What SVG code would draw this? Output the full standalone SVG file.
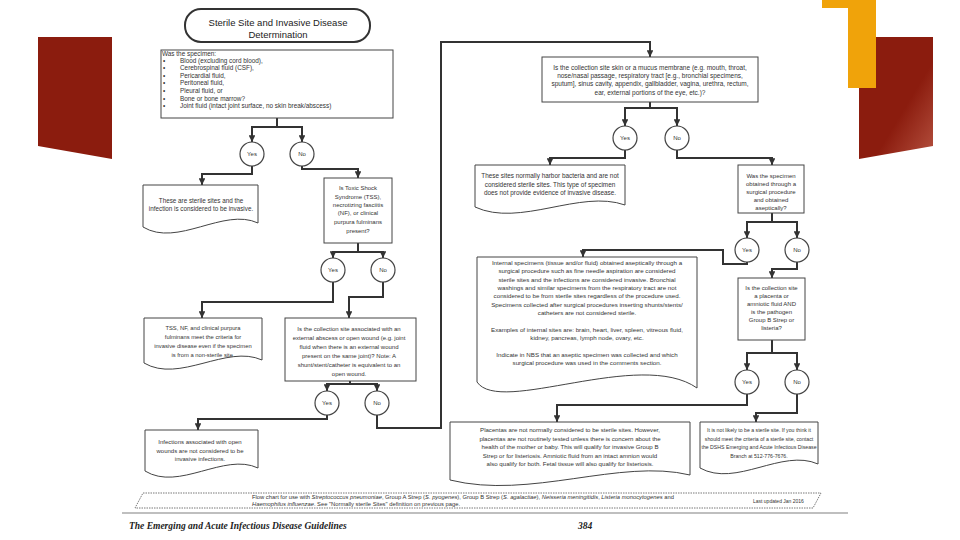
<svg xmlns="http://www.w3.org/2000/svg" width="960" height="540" viewBox="0 0 960 540">
<defs>
<marker id="ah" viewBox="0 0 10 10" refX="10" refY="5" markerWidth="3.4" markerHeight="3.4" orient="auto" markerUnits="strokeWidth"><path d="M0,0 L10,5 L0,10 z" fill="#333"/></marker>
<linearGradient id="rg" x1="0" y1="0" x2="1" y2="1"><stop offset="0.6" stop-color="#8b1c0e"/><stop offset="1" stop-color="#b5513f"/></linearGradient>
<style>
.c{fill:none;stroke:#333;stroke-width:2;stroke-linejoin:miter}
.a{marker-end:url(#ah)}
.b{fill:#fff;stroke:#444;stroke-width:1}
.ci{fill:#fff;stroke:#444;stroke-width:1.2}
.t{font-family:"Liberation Sans",Arial,sans-serif;font-size:6px;fill:#333;text-anchor:middle}
.l{text-anchor:start}
.ttl{font-family:"Liberation Sans",Arial,sans-serif;font-size:9.5px;fill:#222;text-anchor:middle}
.ft{font-family:"Liberation Sans",Arial,sans-serif;font-size:5.8px;fill:#333}
.pg{font-family:"Liberation Serif","Times New Roman",serif;font-size:9.5px;font-style:italic;font-weight:bold;fill:#222}
</style>
</defs>
<rect width="960" height="540" fill="#fff"/>
<g id="decor">
<polygon points="38,37 112,37 112,159 38,146" fill="#8b1c0e"/>
<polygon points="859,37 933,37 933,146 859,159" fill="url(#rg)"/>
<rect x="822" y="0" width="54" height="8" fill="#f0a30a"/>
<rect x="848" y="0" width="28" height="88" fill="#f0a30a"/>
</g>
<g id="connectors">
<path class="c" d="M277,118 V127"/>
<path class="c a" d="M277,127 H252 V142"/>
<path class="c a" d="M277,127 H302 V142"/>
<path class="c a" d="M252,166 V174 H202 V185"/>
<path class="c a" d="M302,166 V169 H358 V178"/>
<path class="c" d="M358,243 V252"/>
<path class="c a" d="M358,252 H333 V258"/>
<path class="c a" d="M358,252 H383 V258"/>
<path class="c a" d="M333,282 V302 H202 V318"/>
<path class="c a" d="M383,282 V297 H349 V318"/>
<path class="c" d="M350,381 V384"/>
<path class="c a" d="M350,384 H327 V391"/>
<path class="c a" d="M350,384 H377 V391"/>
<path class="c a" d="M327,415 V419 H198 V430"/>
<path class="c a" d="M377,415 V428 H441 V42 H650 V57"/>
<path class="c" d="M650,102 V108"/>
<path class="c a" d="M650,108 H625 V126"/>
<path class="c a" d="M650,108 H677 V126"/>
<path class="c a" d="M625,150 V158 H550 V165"/>
<path class="c a" d="M677,150 V158 H772 V165"/>
<path class="c" d="M772,213 V222"/>
<path class="c a" d="M772,222 H747 V238"/>
<path class="c a" d="M772,222 H797 V238"/>
<path class="c a" d="M747,262 V264 H723 V250 H583 V257"/>
<path class="c a" d="M797,262 V269 H772 V278"/>
<path class="c" d="M772,340 V353"/>
<path class="c a" d="M772,353 H747 V370"/>
<path class="c a" d="M772,353 H797 V370"/>
<path class="c a" d="M747,394 V405 H557 V422"/>
<path class="c a" d="M797,394 V413 H756 V422"/>
</g>
<g id="title">
<rect x="185" y="9" width="185" height="33" rx="16" fill="#fff" stroke="#333" stroke-width="2"/>
<text class="ttl" x="278" y="26">Sterile Site and Invasive Disease</text>
<text class="ttl" x="278" y="37.5">Determination</text>
</g>
<g id="q1">
<rect class="b" x="161" y="50" width="232" height="68"/>
<g class="t l" style="font-size:6.4px">
<text x="162" y="55.5">Was the specimen:</text>
<text x="163" y="62.6">•</text><text x="180" y="62.6">Blood (excluding cord blood),</text>
<text x="163" y="70.2">•</text><text x="180" y="70.2">Cerebrospinal fluid (CSF),</text>
<text x="163" y="77.8">•</text><text x="180" y="77.8">Pericardial fluid,</text>
<text x="163" y="85.4">•</text><text x="180" y="85.4">Peritoneal fluid,</text>
<text x="163" y="93">•</text><text x="180" y="93">Pleural fluid, or</text>
<text x="163" y="100.6">•</text><text x="180" y="100.6">Bone or bone marrow?</text>
<text x="163" y="108.2">•</text><text x="180" y="108.2">Joint fluid (intact joint surface, no skin break/abscess)</text>
</g>
</g>
<g id="yes1"><circle class="ci" cx="252" cy="154" r="12"/><text class="t" x="252" y="156">Yes</text></g>
<g id="no1"><circle class="ci" cx="302" cy="154" r="12"/><text class="t" x="302" y="156">No</text></g>
<g id="d1">
<path class="b" d="M143,185 H258 V223 C223.5,207 177.5,247.8 143,227 Z"/>
<g class="t" style="font-size:6.3px">
<text x="201" y="203">These are sterile sites and the</text>
<text x="201" y="211">infection is considered to be invasive.</text>
</g>
</g>
<g id="q2">
<rect class="b" x="324" y="178" width="68" height="65"/>
<g class="t">
<text x="358" y="190">Is Toxic Shock</text>
<text x="358" y="199">Syndrome (TSS),</text>
<text x="358" y="207">necrotizing fasciitis</text>
<text x="358" y="215">(NF), or clinical</text>
<text x="358" y="224">purpura fulminans</text>
<text x="358" y="233">present?</text>
</g>
</g>
<g id="yes2"><circle class="ci" cx="333" cy="270" r="12"/><text class="t" x="333" y="272">Yes</text></g>
<g id="no2"><circle class="ci" cx="383" cy="270" r="12"/><text class="t" x="383" y="272">No</text></g>
<g id="d2">
<path class="b" d="M144,318 H262 V360 C226.6,344 179.4,383.8 144,363 Z"/>
<g class="t" style="font-size:5.8px">
<text x="203" y="330">TSS, NF, and clinical purpura</text>
<text x="203" y="339">fulminans meet the criteria for</text>
<text x="203" y="348">invasive disease even if the specimen</text>
<text x="203" y="357">is from a non-sterile site.</text>
</g>
</g>
<g id="q3">
<rect class="b" x="285" y="318" width="131" height="63"/>
<g class="t">
<text x="349" y="331">Is the collection site associated with an</text>
<text x="349" y="340">external abscess or open wound (e.g. joint</text>
<text x="349" y="349">fluid when there is an external wound</text>
<text x="349" y="358">present on the same joint)? Note: A</text>
<text x="349" y="367">shunt/stent/catheter is equivalent to an</text>
<text x="349" y="376">open wound.</text>
</g>
</g>
<g id="yes3"><circle class="ci" cx="327" cy="403" r="12"/><text class="t" x="327" y="405">Yes</text></g>
<g id="no3"><circle class="ci" cx="377" cy="403" r="12"/><text class="t" x="377" y="405">No</text></g>
<g id="d3">
<path class="b" d="M145,430 H258 V468 C224.1,452 178.9,491.8 145,471 Z"/>
<g class="t">
<text x="200" y="444">Infections associated with open</text>
<text x="200" y="452.5">wounds are not considered to be</text>
<text x="200" y="461">invasive infections.</text>
</g>
</g>
<g id="q4">
<rect class="b" x="542" y="57" width="216" height="45"/>
<g class="t" style="font-size:6.5px">
<text x="650" y="70">Is the collection site skin or a mucus membrane (e.g. mouth, throat,</text>
<text x="650" y="78">nose/nasal passage, respiratory tract [e.g., bronchial specimens,</text>
<text x="650" y="86">sputum], sinus cavity, appendix, gallbladder, vagina, urethra, rectum,</text>
<text x="650" y="95">ear, external portions of the eye, etc.)?</text>
</g>
</g>
<g id="yes4"><circle class="ci" cx="625" cy="138" r="12"/><text class="t" x="625" y="140">Yes</text></g>
<g id="no4"><circle class="ci" cx="677" cy="138" r="12"/><text class="t" x="677" y="140">No</text></g>
<g id="d4">
<path class="b" d="M475,165 H625 V205 C580,189 520,227.8 475,207 Z"/>
<g class="t" style="font-size:6.4px">
<text x="550" y="178">These sites normally harbor bacteria and are not</text>
<text x="550" y="187">considered sterile sites.  This type of specimen</text>
<text x="550" y="195">does not provide evidence of invasive disease.</text>
</g>
</g>
<g id="q5">
<rect class="b" x="738" y="165" width="66" height="48"/>
<g class="t">
<text x="771" y="178">Was the specimen</text>
<text x="771" y="186">obtained through a</text>
<text x="771" y="194">surgical procedure</text>
<text x="771" y="202">and obtained</text>
<text x="771" y="210">aseptically?</text>
</g>
</g>
<g id="yes5"><circle class="ci" cx="747" cy="250" r="12"/><text class="t" x="747" y="252">Yes</text></g>
<g id="no5"><circle class="ci" cx="797" cy="250" r="12"/><text class="t" x="797" y="252">No</text></g>
<g id="d5">
<path class="b" d="M477,257 H697 V388 C640,348 500,416 477,382 Z"/>
<g class="t" style="font-size:6.2px">
<text x="587" y="265">Internal specimens (tissue and/or fluid) obtained aseptically through a</text>
<text x="587" y="273.3">surgical procedure such as fine needle aspiration are considered</text>
<text x="587" y="281.6">sterile sites and the infections are considered invasive.  Bronchial</text>
<text x="587" y="289.9">washings and similar specimens from the respiratory tract are not</text>
<text x="587" y="298.2">considered to be from sterile sites regardless of the procedure used.</text>
<text x="587" y="306.5">Specimens collected after surgical procedures inserting shunts/stents/</text>
<text x="587" y="314.8">catheters are not considered sterile.</text>
<text x="587" y="331.5">Examples of internal sites are: brain, heart, liver, spleen, vitreous fluid,</text>
<text x="587" y="339.8">kidney, pancreas, lymph node, ovary, etc.</text>
<text x="587" y="356.5">Indicate in NBS that an aseptic specimen was collected and which</text>
<text x="587" y="364.8">surgical procedure was used in the comments section.</text>
</g>
</g>
<g id="q6">
<rect class="b" x="738" y="278" width="67" height="62"/>
<g class="t">
<text x="771.5" y="290">Is the collection site</text>
<text x="771.5" y="298">a placenta or</text>
<text x="771.5" y="306">amniotic fluid AND</text>
<text x="771.5" y="314">is the pathogen</text>
<text x="771.5" y="322">Group B Strep or</text>
<text x="771.5" y="330">listeria?</text>
</g>
</g>
<g id="yes6"><circle class="ci" cx="747" cy="382" r="12"/><text class="t" x="747" y="384">Yes</text></g>
<g id="no6"><circle class="ci" cx="797" cy="382" r="12"/><text class="t" x="797" y="384">No</text></g>
<g id="d6">
<path class="b" d="M450,422 H690 V475 C620,458 530,500 450,480 Z"/>
<g class="t" style="font-size:6.1px">
<text x="570" y="432">Placentas are not normally considered to be sterile sites.  However,</text>
<text x="570" y="440.5">placentas are not routinely tested unless there is concern about the</text>
<text x="570" y="449">health of the mother or baby.  This will qualify for invasive Group B</text>
<text x="570" y="457.5">Strep or for listeriosis. Amniotic fluid from an intact amnion would</text>
<text x="570" y="466">also qualify for both.  Fetal tissue will also qualify for listeriosis.</text>
</g>
</g>
<g id="d7">
<path class="b" d="M700,422 H818 V464 C782,448 736,488 700,468 Z"/>
<g class="t" style="font-size:5.2px">
<text x="759" y="432">It is not likely to be a sterile site.  If you think it</text>
<text x="759" y="440.5">should meet the criteria of a sterile site, contact</text>
<text x="759" y="449">the DSHS Emerging and Acute Infectious Disease</text>
<text x="759" y="457.5">Branch at 512-776-7676.</text>
</g>
</g>
<g id="footer">
<polygon points="143,493 821,493 813,508 135,508" fill="none" stroke="#555" stroke-width="0.8" stroke-dasharray="1.5,1"/>
<text class="ft" x="252" y="499">Flow chart for use with <tspan font-style="italic">Streptococcus pneumoniae</tspan>, Group A Strep (<tspan font-style="italic">S. pyogenes</tspan>), Group B Strep (<tspan font-style="italic">S. agalactiae</tspan>), <tspan font-style="italic">Neisseria meningitidis</tspan>, <tspan font-style="italic">Listeria monocytogenes</tspan> and</text>
<text class="ft" x="252" y="506"><tspan font-style="italic">Haemophilus influenzae</tspan>. See "Normally sterile Sites" definition on previous page.</text>
<text class="ft" x="753" y="503" style="font-size:5px">Last updated Jan 2016</text>
<line x1="122" y1="513" x2="848" y2="513" stroke="#aaa" stroke-width="1.5"/>
<text class="pg" x="129" y="529">The Emerging and Acute Infectious Disease Guidelines</text>
<text class="pg" x="578" y="529">384</text>
</g>
</svg>
